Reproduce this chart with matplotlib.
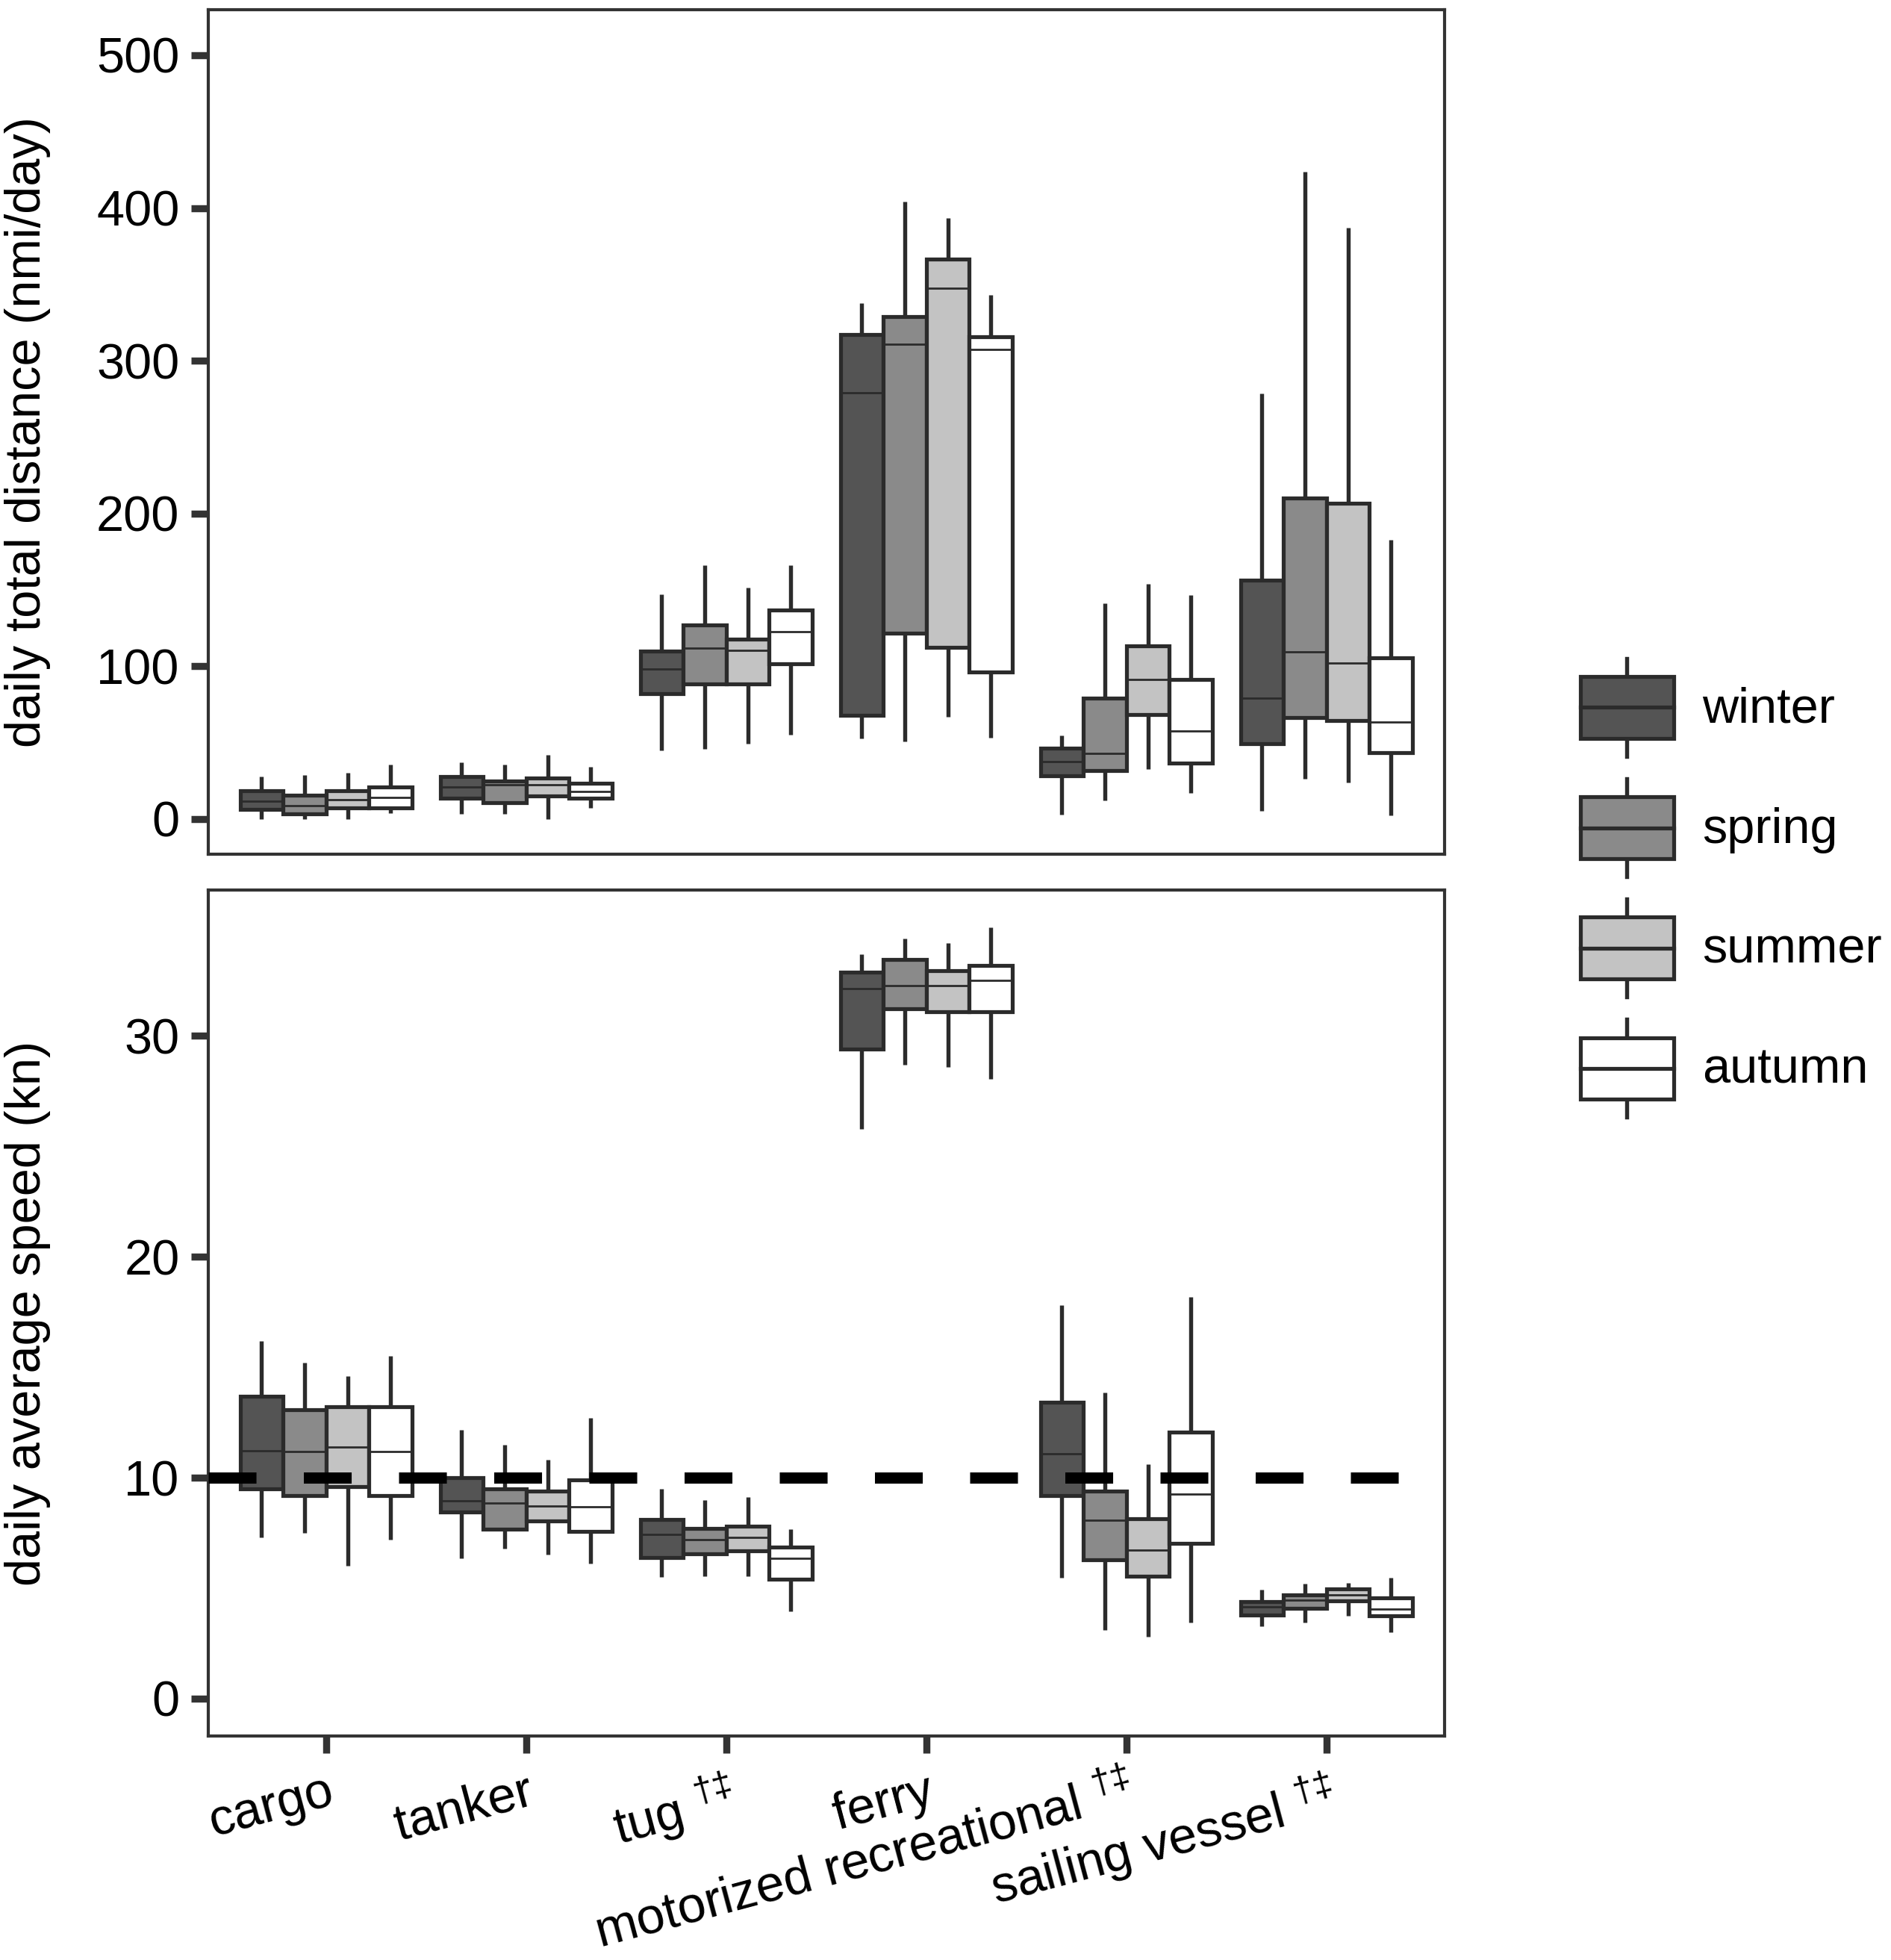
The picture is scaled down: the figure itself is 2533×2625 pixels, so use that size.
"""Daily distance and speed by vessel type and season (box plots)."""
import matplotlib
matplotlib.use('Agg')
import matplotlib.pyplot as plt  # noqa: E402
import matplotlib.patches as mpatches  # noqa: E402
from matplotlib.legend_handler import HandlerBase  # noqa: E402
from matplotlib.lines import Line2D  # noqa: E402

plt.rcParams['font.family'] = ['Liberation Sans', 'DejaVu Sans']
plt.rcParams['mathtext.fontset'] = 'custom'
plt.rcParams['mathtext.rm'] = 'Liberation Sans'
plt.rcParams['mathtext.it'] = 'Liberation Sans:italic'

CATEGORIES = ['cargo', 'tanker', r'tug $^{\dag\ddag}$', 'ferry',
              r'motorized recreational $^{\dag\ddag}$', r'sailing vessel $^{\dag\ddag}$']
SEASONS = ['winter', 'spring', 'summer', 'autumn']
FILLS = ['#545454', '#8a8a8a', '#c3c3c3', '#ffffff']
EDGE = '#2b2b2b'

# daily total distance (nmi/day): rows = seasons, cols = vessel types
DIST_LO = [[0, 3.6, 44.8, 52.7, 2.9, 5.4],
           [0, 3.6, 45.9, 50.9, 12.2, 26.5],
           [0, 0, 49.5, 66.7, 32.6, 24],
           [3.9, 7.2, 55.2, 53, 17.2, 2.5]]
DIST_Q1 = [[6.5, 13.6, 82, 67.7, 28.3, 49.5],
           [3.6, 10.8, 88.5, 121.9, 31.5, 66.3],
           [7.2, 15, 88.5, 112.2, 68.5, 64.5],
           [7.5, 13.6, 101.8, 96.4, 36.6, 43.7]]
DIST_MED = [[11.8, 20.8, 98.2, 278.9, 37.6, 79.2],
            [9, 22.6, 111.8, 310.8, 43, 109.3],
            [12.5, 22.6, 110.4, 347.7, 91.4, 102.2],
            [14.3, 17.9, 122.6, 307.5, 57.7, 63.4]]
DIST_Q3 = [[18.3, 27.6, 110, 317, 46.2, 156.3],
           [15.4, 25.1, 127, 328.7, 79.2, 210],
           [18.6, 26.9, 117.9, 366.7, 113.6, 206.8],
           [20.8, 23.3, 136.9, 315.8, 91.4, 105.7]]
DIST_HI = [[27.6, 36.9, 147, 337.6, 54.8, 278.5],
           [28.7, 35.8, 166, 404, 141, 423.7],
           [30.5, 41.9, 151.6, 393.5, 154, 387],
           [35.8, 34, 166, 343, 146.6, 182.8]]

# daily average speed (kn)
SPD_LO = [[7.3, 6.36, 5.5, 25.77, 5.47, 3.28],
          [7.5, 6.78, 5.54, 28.7, 3.12, 3.44],
          [6.0, 6.52, 5.54, 28.6, 2.8, 3.75],
          [7.2, 6.1, 3.95, 28.06, 3.44, 3.02]]
SPD_Q1 = [[9.48, 8.46, 6.4, 29.4, 9.2, 3.79],
          [9.2, 7.67, 6.55, 31.24, 6.3, 4.1],
          [9.6, 8.05, 6.68, 31.1, 5.54, 4.42],
          [9.2, 7.57, 5.41, 31.08, 7.03, 3.75]]
SPD_MED = [[11.23, 8.97, 7.45, 32.13, 11.1, 4.14],
           [11.17, 8.85, 7.19, 32.26, 8.08, 4.45],
           [11.4, 8.72, 7.29, 32.26, 6.71, 4.7],
           [11.17, 8.69, 6.36, 32.5, 9.26, 4.07]]
SPD_Q3 = [[13.68, 9.99, 8.11, 32.87, 13.43, 4.39],
          [13.08, 9.5, 7.7, 33.47, 9.39, 4.68],
          [13.2, 9.4, 7.8, 32.96, 8.14, 4.96],
          [13.2, 9.9, 6.87, 33.2, 12.06, 4.55]]
SPD_HI = [[16.2, 12.15, 9.48, 33.7, 17.8, 4.93],
          [15.2, 11.5, 9.0, 34.4, 13.87, 5.22],
          [14.6, 10.8, 9.13, 34.2, 10.6, 5.25],
          [15.5, 12.7, 7.67, 34.9, 18.17, 5.47]]

SPEED_REF = 10
BOX_W = 0.215
LW_BOX = 3.75
LW_WHISK = 3.9
LW_MED = 2.0


def draw_boxes(ax, lo, q1, med, q3, hi):
    for s, season in enumerate(SEASONS):
        stats = []
        for c in range(len(CATEGORIES)):
            stats.append({'whislo': lo[s][c], 'q1': q1[s][c], 'med': med[s][c],
                          'q3': q3[s][c], 'whishi': hi[s][c], 'fliers': []})
        pos = [c + 1 + (s - 1.5) * BOX_W for c in range(len(CATEGORIES))]
        ax.bxp(stats, positions=pos, widths=BOX_W, patch_artist=True,
               showfliers=False, showcaps=False, manage_ticks=False,
               boxprops=dict(facecolor=FILLS[s], edgecolor=EDGE, linewidth=LW_BOX),
               whiskerprops=dict(color=EDGE, linewidth=LW_WHISK, solid_capstyle='butt'),
               medianprops=dict(color=EDGE, linewidth=LW_MED, solid_capstyle='butt'))


def style_axis(ax):
    for sp in ax.spines.values():
        sp.set_linewidth(3.0)
        sp.set_color('#333333')
    ax.tick_params(direction='out', length=16.5, width=6.8, color='#333333',
                   labelsize=48, pad=11)
    ax.set_xlim(0.41, 6.59)


class BoxKey(HandlerBase):
    def create_artists(self, legend, orig_handle, xdescent, ydescent,
                       width, height, fontsize, trans):
        x0, y0 = -xdescent, -ydescent
        bh = height * 0.63
        by = y0 + (height - bh) / 2
        xc = x0 + width / 2
        box = mpatches.Rectangle((x0, by), width, bh, facecolor=orig_handle.get_facecolor(),
                                 edgecolor=EDGE, linewidth=LW_BOX, transform=trans)
        med = Line2D([x0, x0 + width], [by + bh / 2] * 2, color=EDGE, lw=LW_BOX,
                     transform=trans)
        w1 = Line2D([xc, xc], [y0, by], color=EDGE, lw=LW_WHISK, transform=trans)
        w2 = Line2D([xc, xc], [by + bh, y0 + height], color=EDGE, lw=LW_WHISK, transform=trans)
        return [w1, w2, box, med]


fig = plt.figure(figsize=(25.33, 26.25), dpi=100)
ax1 = fig.add_axes([0.110, 0.5642, 0.6539, 0.4310])
ax2 = fig.add_axes([0.110, 0.1143, 0.6539, 0.4316])

draw_boxes(ax1, DIST_LO, DIST_Q1, DIST_MED, DIST_Q3, DIST_HI)
style_axis(ax1)
ax1.set_ylim(-23, 530)
ax1.set_yticks([0, 100, 200, 300, 400, 500])
ax1.set_xticks([])
ax1.set_ylabel('daily total distance (nmi/day)', fontsize=48)
ax1.yaxis.set_label_coords(-0.127, 0.5)

draw_boxes(ax2, SPD_LO, SPD_Q1, SPD_MED, SPD_Q3, SPD_HI)
ax2.axhline(SPEED_REF, color='black', linewidth=10.8, linestyle=(0, (4.27, 4.23)), zorder=5)
style_axis(ax2)
ax2.set_ylim(-1.69, 36.6)
ax2.set_yticks([0, 10, 20, 30])
ax2.set_xticks(range(1, len(CATEGORIES) + 1))
ax2.set_xticklabels(CATEGORIES, rotation=15, ha='right', va='top', rotation_mode='anchor',
                    fontsize=49)
ax2.tick_params(axis='x', pad=14)
ax2.set_ylabel('daily average speed (kn)', fontsize=48)
ax2.yaxis.set_label_coords(-0.127, 0.5)

handles = [mpatches.Patch(facecolor=c, label=s) for s, c in zip(SEASONS, FILLS)]
fig.legend(handles=handles, loc='center left', bbox_to_anchor=(0.8358, 0.547),
           frameon=False, fontsize=48, handlelength=1.87, handleheight=2.65,
           labelspacing=0.45, handletextpad=0.58, borderpad=0, borderaxespad=0,
           handler_map={mpatches.Patch: BoxKey()})

fig.savefig('out.png', dpi=100)
